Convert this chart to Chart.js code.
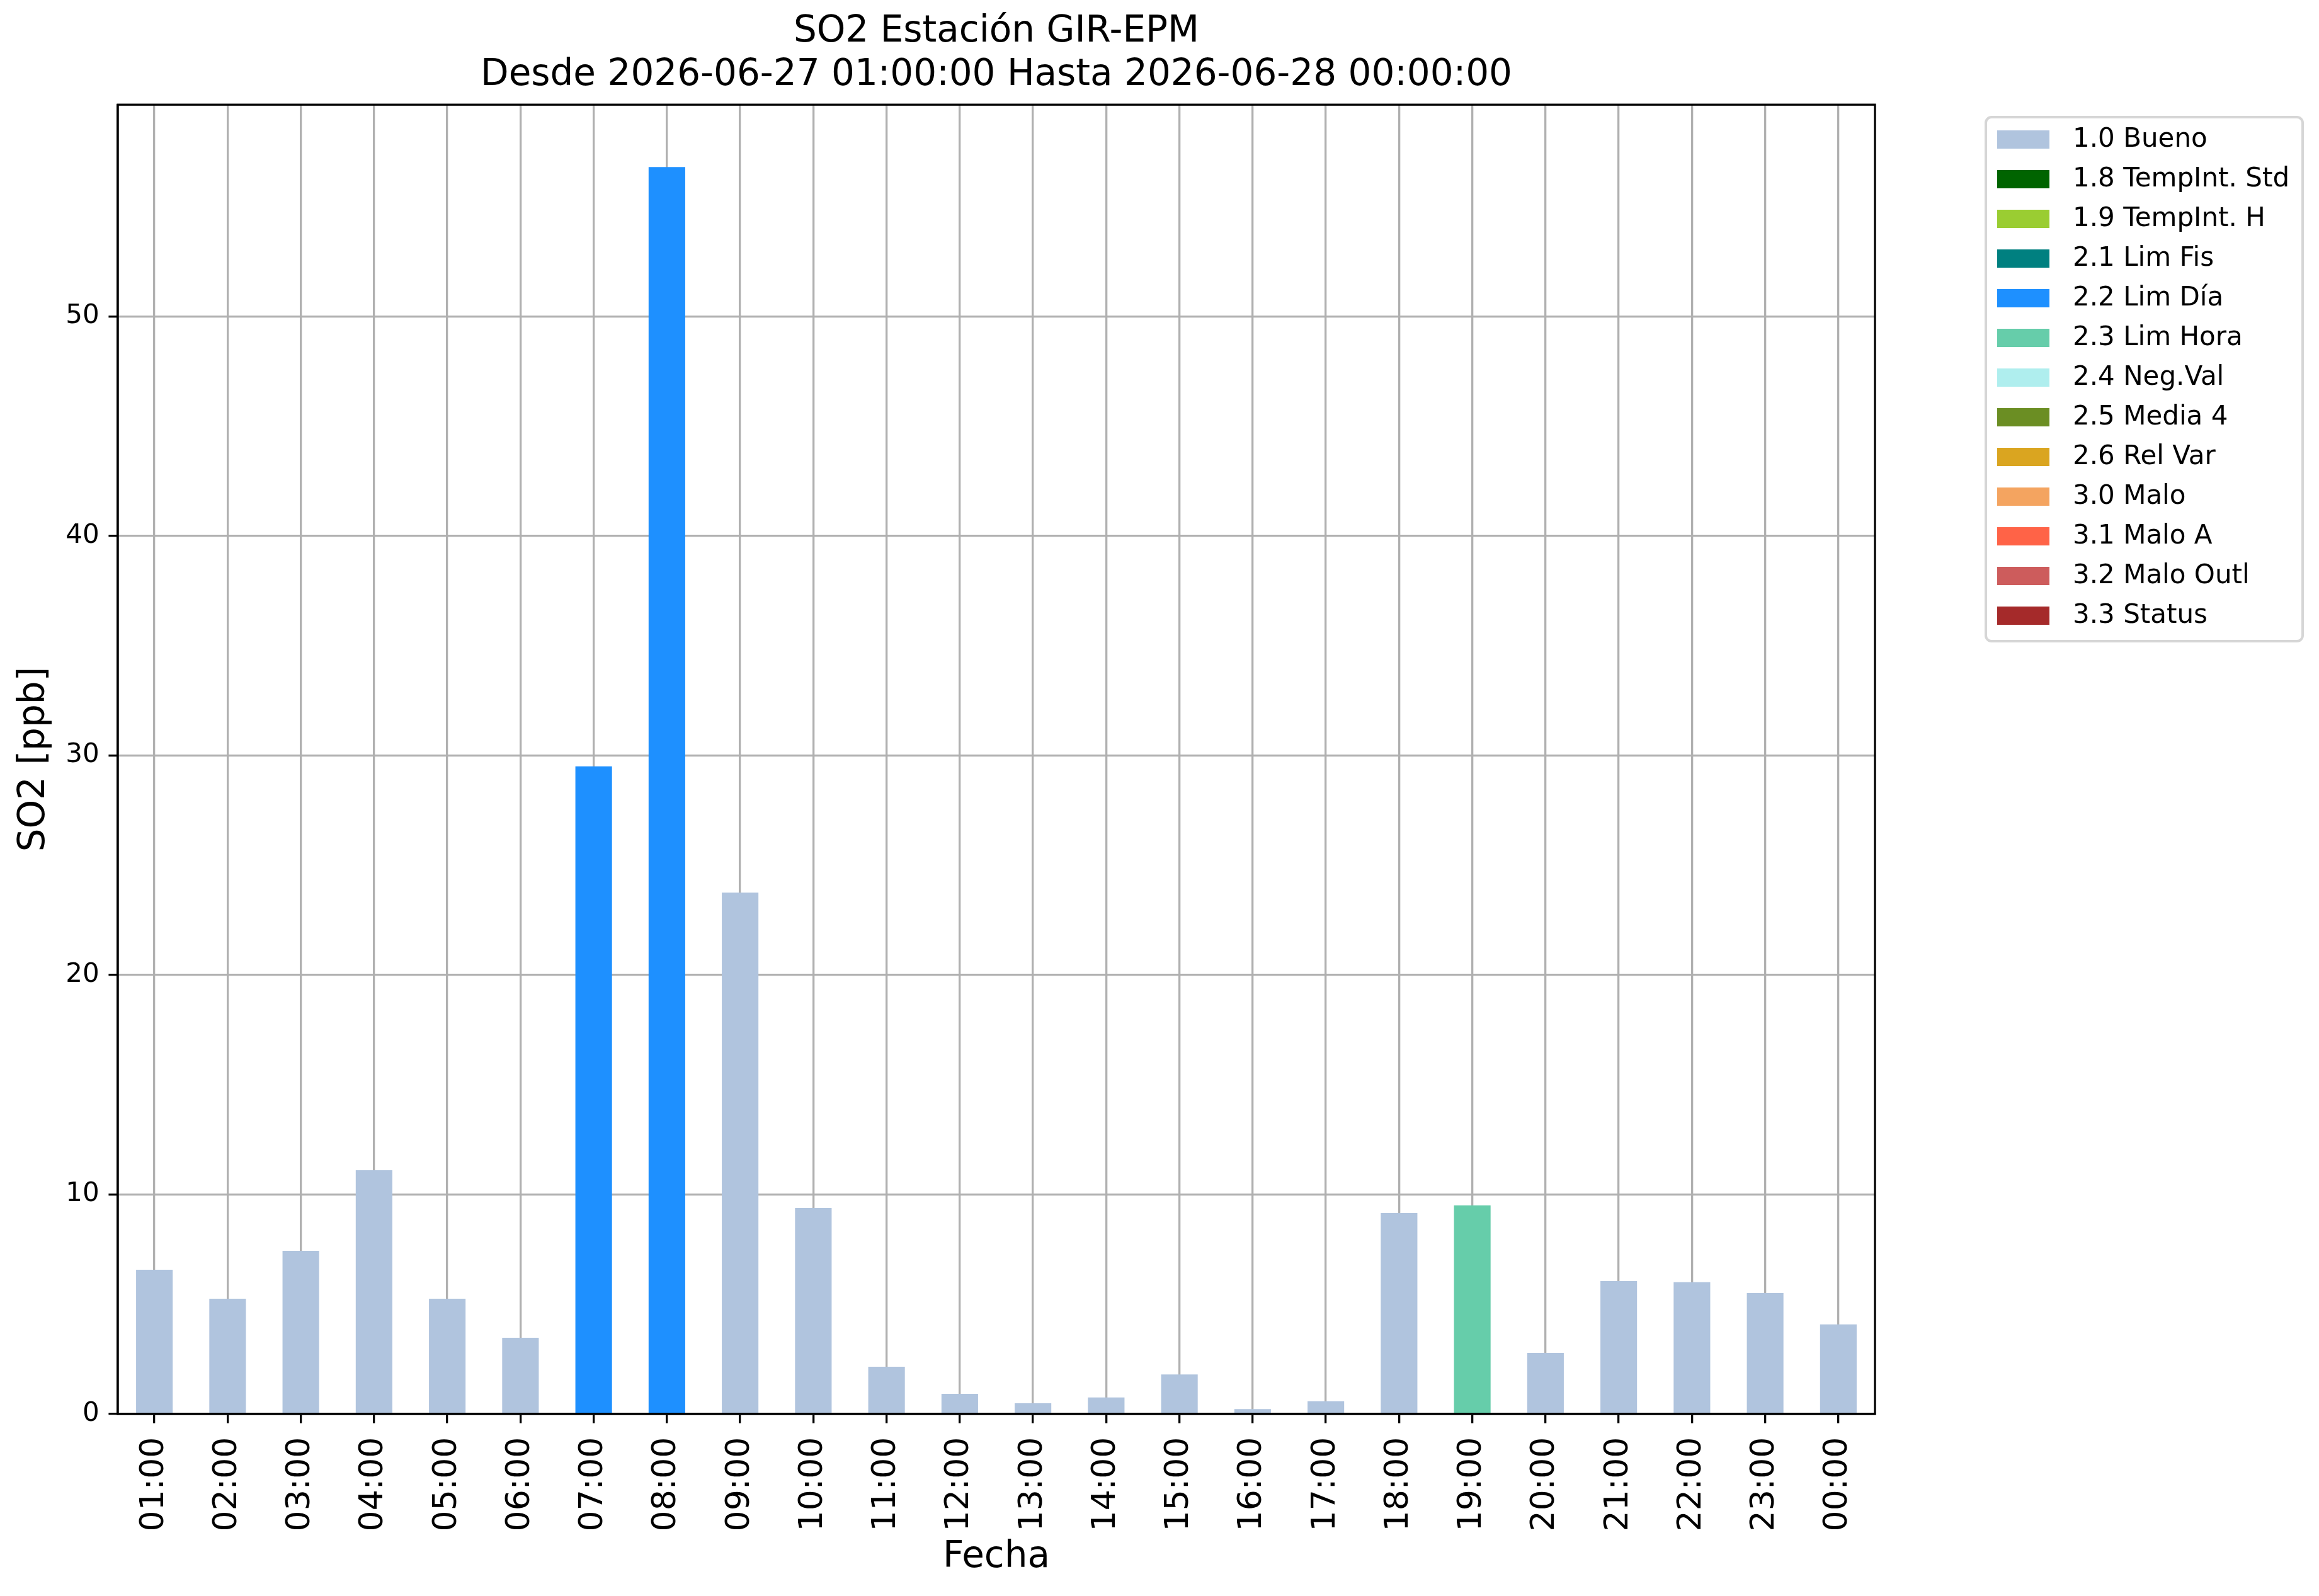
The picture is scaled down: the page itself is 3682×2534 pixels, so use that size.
<!DOCTYPE html>
<html>
<head>
<meta charset="utf-8">
<script src="https://cdn.jsdelivr.net/npm/chart.js@4.4.1/dist/chart.umd.min.js"></script>
<style>
  html, body { margin: 0; padding: 0; background: #fff; }
  canvas { display: block; }
</style>
</head>
<body>
<canvas id="so2Chart" width="3682" height="2534" style="width:3682px;height:2534px"></canvas>
<script>
// hourly SO2 values, split by validation flag
const hours = ['01:00', '02:00', '03:00', '04:00', '05:00', '06:00', '07:00', '08:00',
  '09:00', '10:00', '11:00', '12:00', '13:00', '14:00', '15:00', '16:00',
  '17:00', '18:00', '19:00', '20:00', '21:00', '22:00', '23:00', '00:00'];

const bueno = [6.57, 5.25, 7.43, 11.1, 5.25, 3.47, null, null, 23.75, 9.38, 2.15, 0.92,
  0.49, 0.75, 1.8, 0.22, 0.58, 9.15, null, 2.78, 6.05, 6.0, 5.51, 4.08];
const limDia = [null, null, null, null, null, null, 29.5, 56.8, null, null, null, null,
  null, null, null, null, null, null, null, null, null, null, null, null];
const limHora = [null, null, null, null, null, null, null, null, null, null, null, null,
  null, null, null, null, null, null, 9.5, null, null, null, null, null];

const flagLabels = ['1.0 Bueno', '1.8 TempInt. Std', '1.9 TempInt. H', '2.1 Lim Fis',
  '2.2 Lim Día', '2.3 Lim Hora', '2.4 Neg.Val', '2.5 Media 4', '2.6 Rel Var',
  '3.0 Malo', '3.1 Malo A', '3.2 Malo Outl', '3.3 Status'];
const flagColors = ['#b0c4de', '#006400', '#9acd32', '#008080', '#1e90ff', '#66cdaa',
  '#afeeee', '#6b8e23', '#daa520', '#f4a460', '#ff6347', '#cd5c5c', '#a52a2a'];

const seriesByFlag = { '1.0 Bueno': bueno, '2.2 Lim Día': limDia, '2.3 Lim Hora': limHora };

const FONT = '"DejaVu Sans", "Liberation Sans", sans-serif';
const LW = 3.3;   // 0.8pt at 300 dpi
const TICK = 14.6;

Chart.defaults.color = '#000';
Chart.defaults.font.family = FONT;

// legend box drawn to the right of the axes, like matplotlib's bbox_to_anchor
const flagLegend = {
  id: 'flagLegend',
  afterDraw(chart) {
    const ctx = chart.ctx;
    ctx.save();
    ctx.fillStyle = '#fff';
    ctx.strokeStyle = '#d6d6d6';
    ctx.lineWidth = 4;
    ctx.beginPath();
    ctx.roundRect(3153, 186, 503, 832, 9);
    ctx.fill();
    ctx.stroke();
    ctx.font = '42px ' + FONT;
    ctx.textBaseline = 'middle';
    chart.data.datasets.forEach((ds, i) => {
      const cy = 221.5 + i * 63;
      ctx.fillStyle = ds.backgroundColor;
      ctx.fillRect(3171, cy - 14.5, 83, 29);
      ctx.fillStyle = '#000';
      ctx.fillText(ds.label, 3291, cy + 1);
    });
    ctx.restore();
  }
};

// black frame round the plot area
const frame = {
  id: 'frame',
  afterDraw(chart) {
    const { ctx, chartArea: a } = chart;
    ctx.save();
    ctx.strokeStyle = '#000';
    ctx.lineWidth = LW;
    ctx.strokeRect(a.left, a.top, a.right - a.left, a.bottom - a.top);
    ctx.restore();
  }
};

const ctx = document.getElementById('so2Chart').getContext('2d');

new Chart(ctx, {
  type: 'bar',
  data: {
    labels: hours,
    datasets: flagLabels.map((label, i) => ({
      label: label,
      data: seriesByFlag[label] || hours.map(() => null),
      backgroundColor: flagColors[i],
      borderWidth: 0,
      categoryPercentage: 1.0,
      barPercentage: 0.5
    }))
  },
  options: {
    responsive: false,
    devicePixelRatio: 1,
    animation: false,
    layout: { padding: { left: 0, right: 705, top: 0, bottom: 0 } },
    plugins: {
      legend: { display: false },
      tooltip: { enabled: false },
      title: {
        display: true,
        fullSize: false,
        text: ['SO2 Estación GIR-EPM', 'Desde 2026-06-27 01:00:00 Hasta 2026-06-28 00:00:00'],
        color: '#000',
        font: { family: FONT, size: 58, weight: 'normal', lineHeight: 1.2 },
        padding: { top: 16, bottom: 11 }
      }
    },
    scales: {
      x: {
        stacked: true,
        z: 1,
        grid: {
          offset: false,
          color: '#b0b0b0',
          lineWidth: LW,
          tickColor: '#000',
          tickWidth: LW,
          tickLength: TICK
        },
        border: { display: true, color: '#000', width: LW },
        ticks: {
          autoSkip: false,
          minRotation: 90,
          maxRotation: 90,
          padding: 22,
          color: '#000',
          font: { family: FONT, size: 52 }
        },
        title: {
          display: true,
          text: 'Fecha',
          color: '#000',
          font: { family: FONT, size: 58 },
          padding: { top: 0, bottom: 26 }
        },
        afterFit(scale) { scale.height = 289; }
      },
      y: {
        stacked: true,
        z: 1,
        min: 0,
        max: 59.64,
        grid: {
          color: '#b0b0b0',
          lineWidth: LW,
          tickColor: '#000',
          tickWidth: LW,
          tickLength: TICK
        },
        border: { display: true, color: '#000', width: LW },
        ticks: {
          stepSize: 10,
          includeBounds: false,
          padding: 14.6,
          color: '#000',
          font: { family: FONT, size: 42 }
        },
        title: {
          display: true,
          text: 'SO2 [ppb]',
          color: '#000',
          font: { family: FONT, size: 58 },
          padding: { top: 20, bottom: 0 }
        },
        afterFit(scale) { scale.width = 187; }
      }
    }
  },
  plugins: [flagLegend, frame]
});
</script>
</body>
</html>
